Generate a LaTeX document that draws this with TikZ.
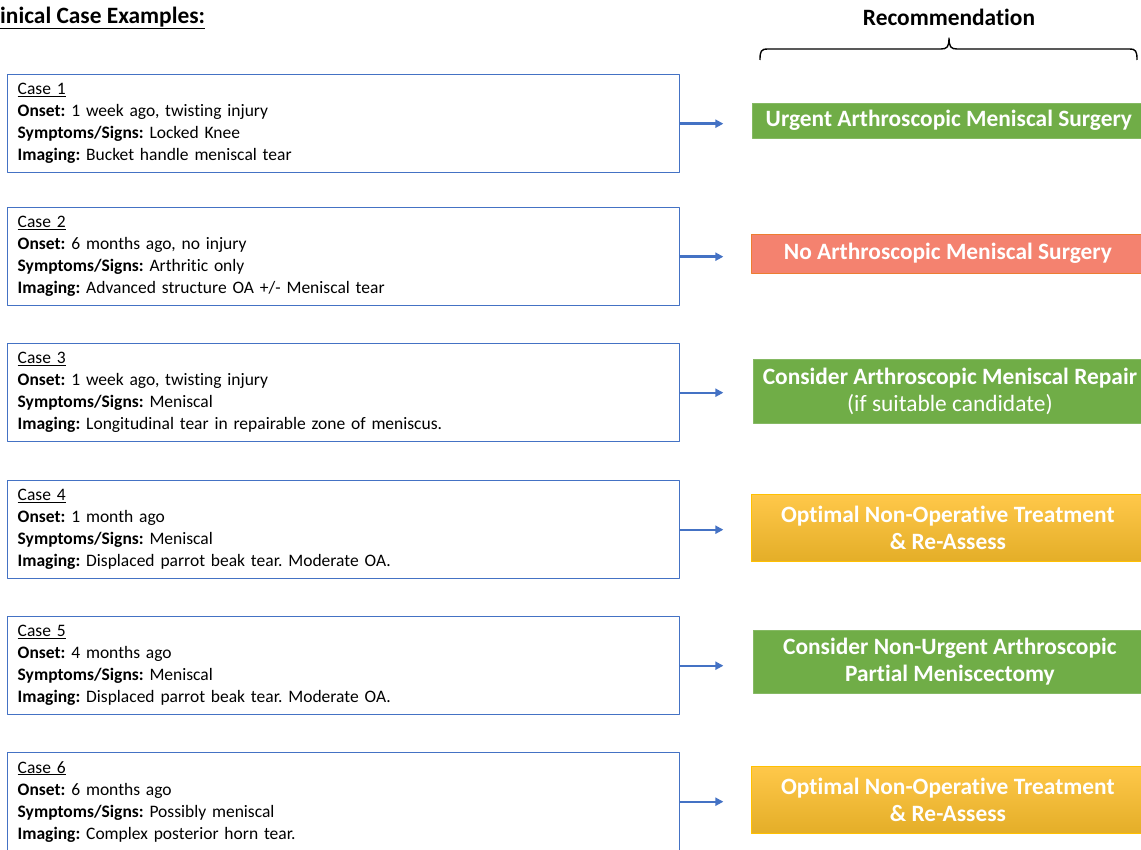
\documentclass[tikz,border=0pt]{standalone}
\usepackage{fontspec}
\setmainfont{Carlito}[Ligatures=NoCommon]
\usetikzlibrary{arrows.meta}
\definecolor{caseblue}{RGB}{68,114,196}
\definecolor{recgreen}{RGB}{112,173,71}
\definecolor{recred}{RGB}{244,130,111}
\definecolor{recredline}{RGB}{237,125,49}
\definecolor{goldtop}{RGB}{255,200,74}
\definecolor{goldmid}{RGB}{252,190,36}
\definecolor{goldbot}{RGB}{228,174,40}
\definecolor{goldline}{RGB}{255,192,0}
\frenchspacing
\tikzset{
  casebox/.style={draw=caseblue, line width=1.4pt, anchor=north west, minimum width=672pt, minimum height=98pt,
    text width=652pt, inner xsep=10pt, align=left, font=\fontsize{17.5}{22}\selectfont},
  recbox/.style={anchor=west, minimum width=393pt, inner sep=0pt, text=white, align=center,
    font=\fontsize{23.4}{27}\selectfont\bfseries},
  greenbox/.style={recbox, fill=recgreen, draw=recgreen!85!white, line width=0.8pt},
  redbox/.style={recbox, fill=recred, draw=recredline, line width=0.8pt},
  goldbox/.style={recbox, top color=goldtop, middle color=goldmid, bottom color=goldbot, draw=goldline, line width=0.8pt},
  casearrow/.style={draw=caseblue, line width=2.4pt, -{Triangle[length=8pt,width=8pt]}}
}
\begin{document}
\begin{tikzpicture}[x=1pt, y=-1pt, line join=round]
	\useasboundingbox (0,0) rectangle (1141,850);
	\clip (0,0) rectangle (1141,850);
	% headings
	\node[anchor=west, inner sep=0pt, font=\fontsize{23.4}{26}\selectfont\bfseries] (title) at (0,18) {\underline{inical Case Examples:}};
	\node[inner sep=0pt, font=\fontsize{23.4}{26}\selectfont\bfseries] (rechead) at (949,17) {Recommendation};
	% brace under the heading
	\draw[line width=1.4pt] (760,60) .. controls (760,51) and (761,49) .. (768,49) -- (941,49)
		.. controls (947,49) and (949,47) .. (949,38) .. controls (949,47) and (951,49) .. (957,49)
		-- (1129,49) .. controls (1136,49) and (1137,51) .. (1137,60);
	% cases
	\node[casebox] (case1) at (7,74) {\underline{Case 1}\\ \textbf{Onset:} 1 week ago, twisting injury\\ \textbf{Symptoms/Signs:} Locked Knee\\ \textbf{Imaging:} Bucket handle meniscal tear};
	\node[casebox] (case2) at (7,207) {\underline{Case 2}\\ \textbf{Onset:} 6 months ago, no injury\\ \textbf{Symptoms/Signs:} Arthritic only\\ \textbf{Imaging:} Advanced structure OA +/- Meniscal tear};
	\node[casebox] (case3) at (7,343) {\underline{Case 3}\\ \textbf{Onset:} 1 week ago, twisting injury\\ \textbf{Symptoms/Signs:} Meniscal\\ \textbf{Imaging:} Longitudinal tear in repairable zone of meniscus.};
	\node[casebox] (case4) at (7,480) {\underline{Case 4}\\ \textbf{Onset:} 1 month ago\\ \textbf{Symptoms/Signs:} Meniscal\\ \textbf{Imaging:} Displaced parrot beak tear. Moderate OA.};
	\node[casebox] (case5) at (7,616) {\underline{Case 5}\\ \textbf{Onset:} 4 months ago\\ \textbf{Symptoms/Signs:} Meniscal\\ \textbf{Imaging:} Displaced parrot beak tear. Moderate OA.};
	\node[casebox] (case6) at (7,752) {\underline{Case 6}\\ \textbf{Onset:} 6 months ago\\ \textbf{Symptoms/Signs:} Possibly meniscal\\ \textbf{Imaging:} Complex posterior horn tear.};
	% recommendations
	\node[greenbox, minimum height=35pt] (rec1) at (752,120.5) {Urgent Arthroscopic Meniscal Surgery};
	\node[redbox, minimum height=39pt] (rec2) at (751,253.5) {No Arthroscopic Meniscal Surgery};
	\node[greenbox, minimum height=64pt] (rec3) at (753,391) {Consider Arthroscopic Meniscal Repair\\ \mdseries(if suitable candidate)};
	\node[goldbox, minimum height=67pt] (rec4) at (751,527.5) {Optimal Non-Operative Treatment\\ \& Re-Assess};
	\node[greenbox, minimum height=63pt] (rec5) at (753,661.5) {Consider Non-Urgent Arthroscopic\\ Partial Meniscectomy};
	\node[goldbox, minimum height=67pt] (rec6) at (751,799.5) {Optimal Non-Operative Treatment\\ \& Re-Assess};
	% arrows
	\foreach \i in {1,...,6} {
		\coordinate (end\i) at ([xshift=43pt]case\i.east);
		\draw[casearrow] (case\i.east) -- (end\i);
	}
\end{tikzpicture}
\end{document}
